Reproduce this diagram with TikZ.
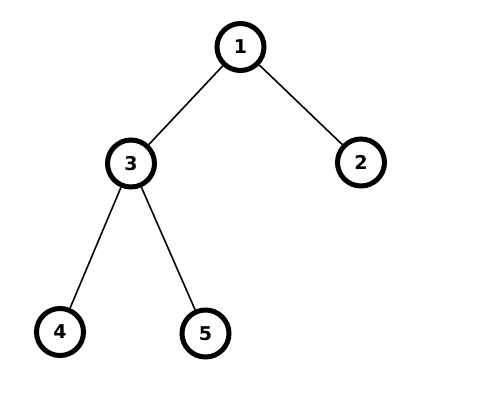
\documentclass[tikz,border=0pt]{standalone}
\usepackage{fontspec}
\setmainfont{DejaVu Sans}
\usepackage{tikz}

\begin{document}
\begin{tikzpicture}[x=1pt, y=-1pt,
            vertex/.style={circle, draw, black, line width=5pt, minimum size=47pt, inner sep=0pt, font=\fontsize{19}{19}\selectfont\bfseries},
            link/.style={line width=1.6pt, black}]
            \useasboundingbox (0, 0) rectangle (483, 400);
            \node[vertex] (v1) at (240.5, 47) {1};
            \node[vertex] (v2) at (361, 162.5) {2};
            \node[vertex] (v3) at (131, 163.5) {3};
            \node[vertex] (v4) at (60, 332) {4};
            \node[vertex] (v5) at (205.5, 333.5) {5};
            \draw[link] (v1) -- (v3);
            \draw[link] (v1) -- (v2);
            \draw[link] (v3) -- (v4);
            \draw[link] (v3) -- (v5);
        \end{tikzpicture}
\end{document}
